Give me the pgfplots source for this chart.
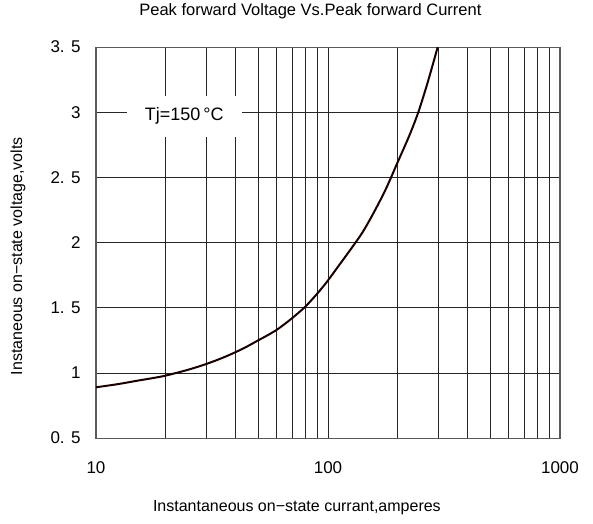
\documentclass[border=0pt]{standalone}
\usepackage{fontspec}
\setmainfont{Liberation Sans}
\usepackage{pgfplots}
\pgfplotsset{compat=1.18}
\begin{document}
\begin{tikzpicture}
\begin{axis}[
  xmode=log, scale only axis, width=464pt, height=391pt,
  xmin=10, xmax=1000, ymin=0.5, ymax=3.5,
  xtick={10,100,1000}, xticklabels={10,100,1000},
  minor xtick={20,30,40,50,60,70,80,90,200,300,400,500,600,700,800,900},
  ytick={0.5,1,1.5,2,2.5,3,3.5},
  yticklabels={0. 5,1,1. 5,2,2. 5,3,3. 5},
  grid=both,
  major grid style={black!85, line width=0.8pt},
  minor grid style={black!85, line width=0.8pt},
  major tick length=0pt, minor tick length=0pt,
  axis line style={black!65, line width=1.2pt},
  tick label style={font=\fontsize{17}{20}\selectfont},
  xticklabel style={yshift=-20pt},
  yticklabel style={xshift=-12pt},
  title={Peak forward Voltage Vs.Peak forward Current},
  title style={at={(axis description cs:0.462,1.077)}, anchor=center, font=\fontsize{16.5}{20}\selectfont},
  xlabel={Instantaneous on−state currant,amperes},
  xlabel style={at={(axis description cs:0.433,-0.179)}, anchor=center, font=\fontsize{16}{19}\selectfont},
  ylabel={Instaneous on−state voltage,volts},
  ylabel style={at={(axis description cs:-0.168,0.465)}, anchor=center, font=\fontsize{16}{19}\selectfont},
  clip=true,
]
\addplot[black!90!red, line width=2pt, smooth, tension=0.5] coordinates {
 (10,0.89) (12.5,0.915) (15,0.94) (17.5,0.96) (20,0.98) (25,1.025) (30,1.07) (35,1.115) (40,1.16) (45,1.205) (50,1.25) (55,1.29) (60,1.33)
 (65,1.375) (70,1.42) (75,1.465) (80,1.51) (85,1.56) (90,1.61) (95,1.66) (100,1.71) (112,1.83) (126,1.955) (141,2.08)
 (158,2.235) (178,2.415) (200,2.62) (224,2.82) (245,3.0) (269,3.23) (297,3.5)
};
\node[fill=white, inner xsep=18pt, inner ysep=12pt, font=\fontsize{18}{21}\selectfont]
  at (axis cs:24,2.97) {Tj=150\,°C};
\end{axis}
\path[use as bounding box] ([shift={(-96pt,-85pt)}]current axis.south west) rectangle ([shift={(33pt,46.7pt)}]current axis.north east);
\end{tikzpicture}
\end{document}
